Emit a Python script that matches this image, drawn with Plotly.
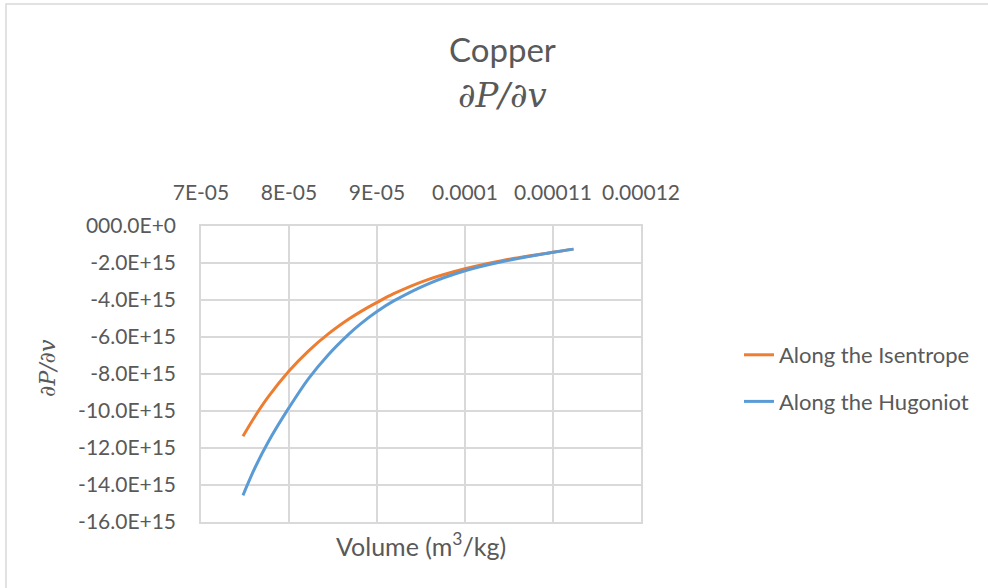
import plotly.graph_objects as go

# Volume (m^3/kg)
vol_isentrope = [7.477e-5, 7.62e-5, 7.77e-5, 8.00e-5, 8.22e-5, 8.45e-5, 8.68e-5, 8.81e-5,
                 9.00e-5, 9.19e-5, 9.57e-5, 1.000e-4, 1.043e-4, 1.100e-4, 1.1233e-4]
dpdv_isentrope = [-11.36e15, -10.24e15, -9.20e15, -7.84e15, -6.76e15, -5.82e15, -5.03e15, -4.64e15,
                  -4.13e15, -3.66e15, -2.91e15, -2.31e15, -1.86e15, -1.42e15, -1.25e15]

vol_hugoniot = [7.477e-5, 7.62e-5, 7.77e-5, 8.00e-5, 8.22e-5, 8.45e-5, 8.68e-5, 8.81e-5,
                9.00e-5, 9.19e-5, 9.57e-5, 1.000e-4, 1.043e-4, 1.100e-4, 1.1233e-4]
dpdv_hugoniot = [-14.56e15, -13.00e15, -11.62e15, -9.82e15, -8.26e15, -6.94e15, -5.84e15, -5.30e15,
                 -4.62e15, -4.05e15, -3.15e15, -2.42e15, -1.92e15, -1.42e15, -1.25e15]

x_tickvals = [7e-5, 8e-5, 9e-5, 1e-4, 1.1e-4, 1.2e-4]
x_ticktext = ["7E-05", "8E-05", "9E-05", "0.0001", "0.00011", "0.00012"]
y_tickvals = [0, -2e15, -4e15, -6e15, -8e15, -10e15, -12e15, -14e15, -16e15]
y_ticktext = ["000.0E+0", "-2.0E+15", "-4.0E+15", "-6.0E+15", "-8.0E+15",
              "-10.0E+15", "-12.0E+15", "-14.0E+15", "-16.0E+15"]

TXT = "#595959"
GRID = "#d9d9d9"
FONT = "Lato"

fig = go.Figure()
fig.add_trace(go.Scatter(x=vol_isentrope, y=dpdv_isentrope, mode="lines",
                         name="Along the Isentrope", legendgroup="a",
                         line=dict(color="#ED7D31", width=3, shape="spline", smoothing=1)))
fig.add_trace(go.Scatter(x=vol_hugoniot, y=dpdv_hugoniot, mode="lines",
                         name="Along the Hugoniot", legendgroup="b",
                         line=dict(color="#5B9BD5", width=3, shape="spline", smoothing=1)))


def px(xp):
    return (xp - 201) / 440


def py(yp):
    return (522 - yp) / 296


fig.update_layout(
    width=988, height=588,
    margin=dict(l=201, r=347, t=226, b=66),
    paper_bgcolor="white", plot_bgcolor="white",
    font=dict(family=FONT, color=TXT, size=21),
    showlegend=True,
    legend=dict(x=px(739), y=py(378.5), xanchor="left", yanchor="middle",
                font=dict(family=FONT, size=22, color=TXT),
                tracegroupgap=15, bgcolor="rgba(0,0,0,0)"),
    xaxis=dict(range=[7e-5, 1.2e-4], side="top", tickvals=x_tickvals, ticktext=x_ticktext,
               showgrid=True, gridcolor=GRID, gridwidth=1.5, zeroline=False,
               showline=True, linecolor=GRID, linewidth=1.5, mirror=True,
               ticks="", ticklabelstandoff=16,
               tickfont=dict(family=FONT, size=21, color=TXT)),
    yaxis=dict(range=[-16e15, 0], tickvals=y_tickvals, ticktext=y_ticktext,
               showgrid=True, gridcolor=GRID, gridwidth=1.5, zeroline=False,
               showline=True, linecolor=GRID, linewidth=1.5, mirror=True,
               ticks="", ticklabelstandoff=19,
               tickfont=dict(family=FONT, size=21, color=TXT)),
    annotations=[
        dict(text="Copper", x=px(502), y=py(49), xref="paper", yref="paper",
             xanchor="center", yanchor="middle",
             showarrow=False, font=dict(family=FONT, size=33, color=TXT)),
        dict(text="<i>∂P/∂v</i>", x=px(502), y=py(95), xref="paper", yref="paper",
             xanchor="center", yanchor="middle",
             showarrow=False, font=dict(family="DejaVu Serif", size=34, color=TXT)),
        dict(text="Volume (m<sup>3</sup>/kg)", x=0.5, y=py(544), xref="paper", yref="paper",
             xanchor="center", yanchor="middle",
             showarrow=False, font=dict(family=FONT, size=25, color=TXT)),
        dict(text="<i>∂P/∂v</i>", x=px(47), y=py(368), xref="paper", yref="paper",
             xanchor="center", yanchor="middle",
             textangle=-90, showarrow=False,
             font=dict(family="DejaVu Serif", size=22, color=TXT)),
    ],
    shapes=[
        dict(type="rect", xref="paper", yref="paper",
             x0=px(6), x1=px(995), y0=py(595), y1=py(4),
             line=dict(color=GRID, width=1.5), fillcolor="rgba(0,0,0,0)", layer="below"),
    ],
)

fig.write_html("out.html", config={"displayModeBar": False},
               post_script="document.body.style.margin='0px';")
